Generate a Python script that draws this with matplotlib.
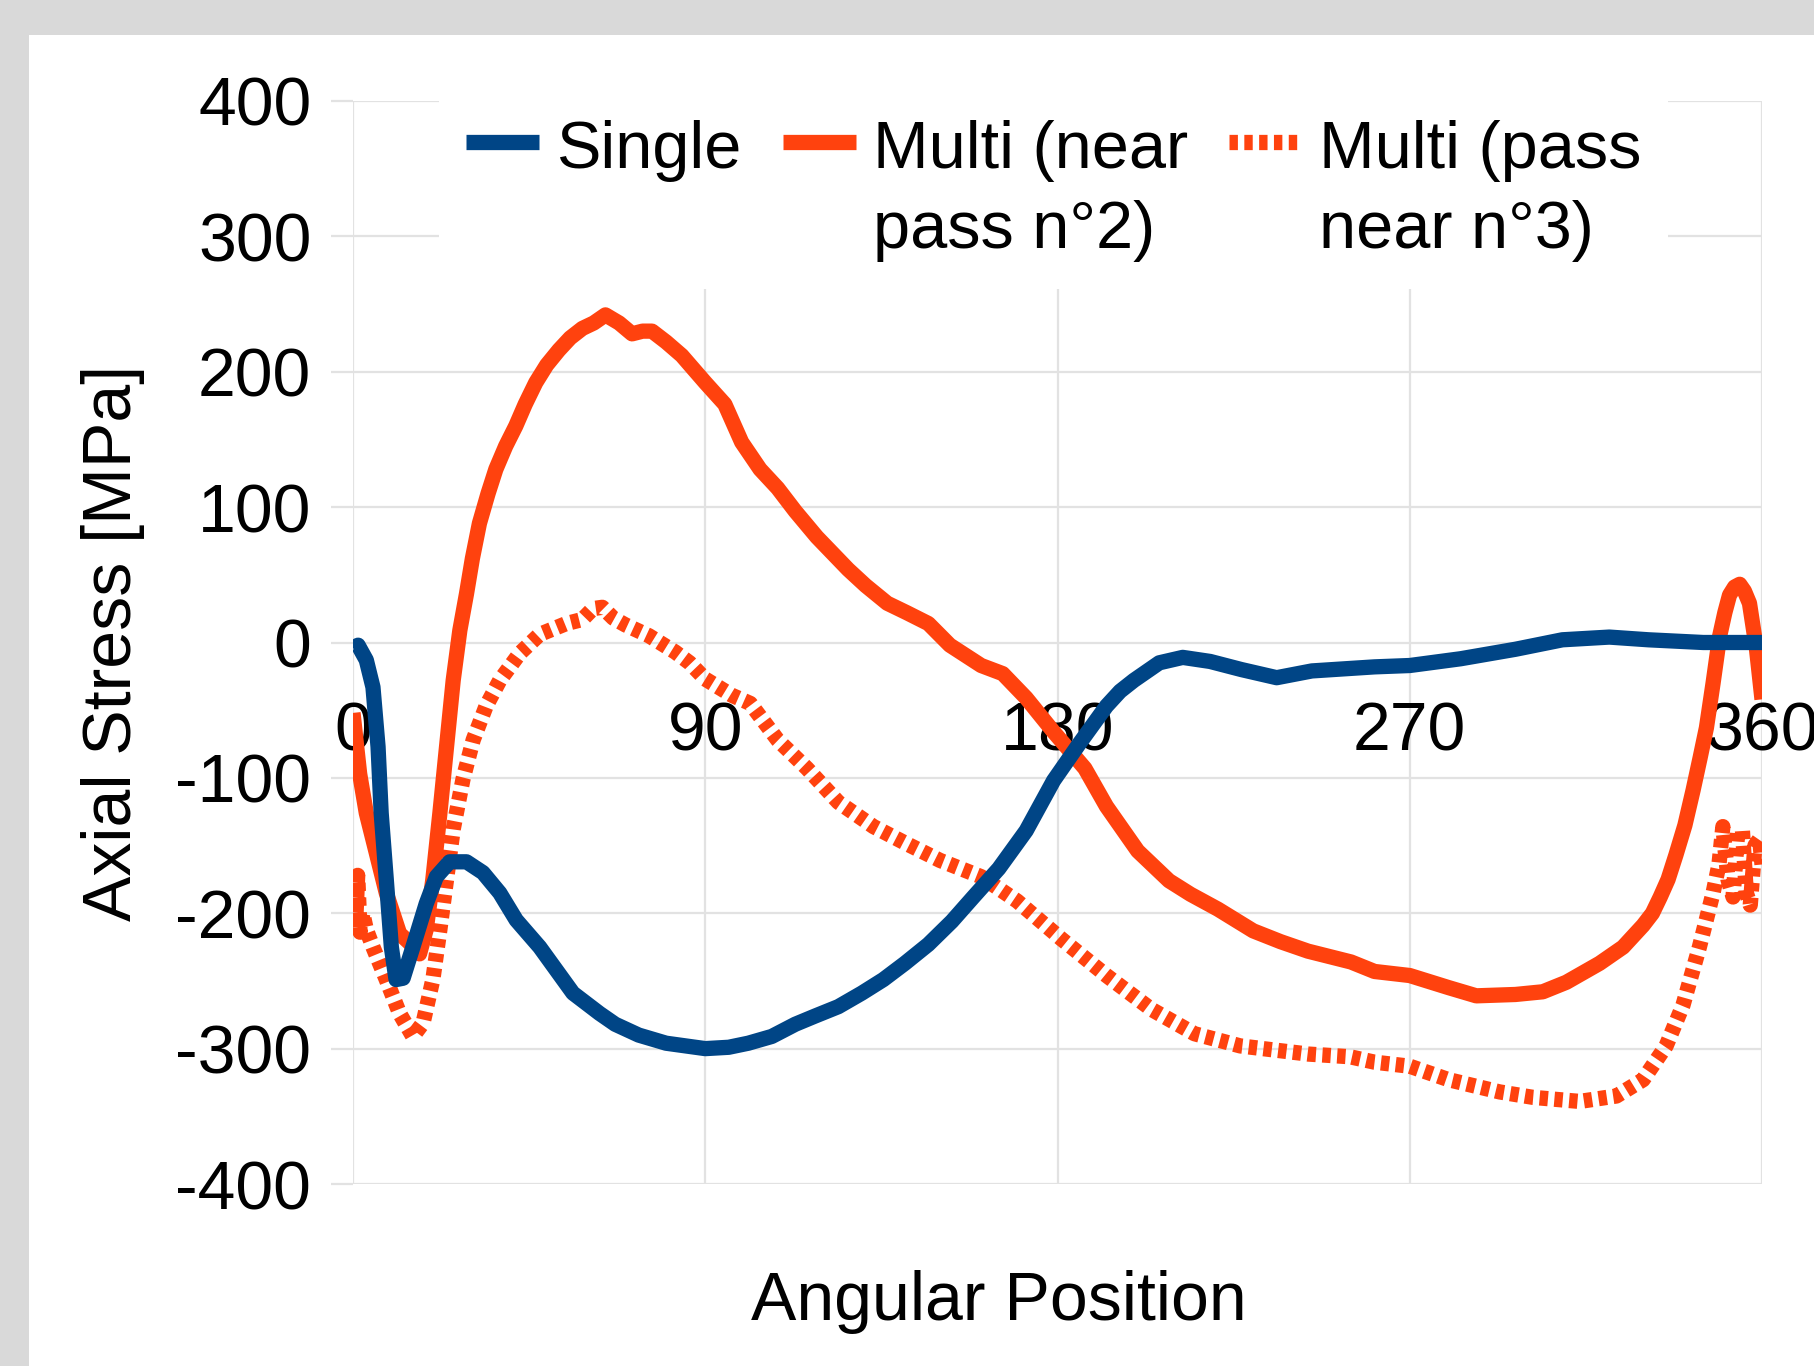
import matplotlib
matplotlib.use('Agg')
import matplotlib.pyplot as plt
from matplotlib.patches import Rectangle

plt.rcParams['font.family'] = ['Liberation Sans', 'DejaVu Sans']
plt.rcParams['axes.unicode_minus'] = False

# angular position (deg) and axial stress (MPa)
ang_single = [0, 1.3, 3.4, 5.1, 6.4, 7.2, 8.5, 9.8, 11, 12.8, 15.3, 18.7, 21.3, 24.7, 29,
              33.2, 37.5, 41.7, 47.7, 56.2, 63, 67, 73, 80, 90, 96, 101, 107, 113, 118,
              124, 130, 135.5, 141, 147, 153, 158.5, 165, 172, 179, 185.5, 192.5, 196,
              199.5, 206, 212, 219, 227, 236, 245, 261, 270, 283, 297, 309, 321, 331,
              345, 360]
single = [-4, -2, -13, -33, -77, -126, -175, -225, -249, -248, -225, -193, -173, -162, -162,
          -170, -185, -205, -225, -259, -274, -282, -290, -296, -300, -299, -296, -291,
          -282, -276, -269, -259, -249, -237, -223, -206, -188, -167, -139, -102, -75,
          -47, -36, -28, -15, -11, -14, -20, -26, -21, -18, -17, -12, -5, 2, 4, 2,
          0, 0]

ang_near = [0, 1.7, 3.4, 6, 8.5, 11.9, 14.5, 17, 18.7, 20.4, 22.2, 23.9, 25.6, 27.3, 29,
            30.5, 32.3, 34.5, 36.5, 39, 41.6, 44, 46.7, 49.5, 52.6, 55.5, 58.6, 61.5,
            64.5, 68, 71.3, 74, 76.4, 80, 84, 87, 90, 95, 99.3, 104, 108.5, 113, 118.5,
            122.5, 126.5, 131, 136.5, 141.5, 147, 152.5, 160.5, 166, 172, 179, 187,
            192.5, 200.5, 208.5, 214, 221, 230, 237, 244, 255, 261, 270, 280, 287, 297,
            304, 310, 318.5, 324.5, 329.6, 332, 334, 336, 338, 340.3, 342.4, 344.2,
            345.8, 347.5, 349.2, 350.5, 351.7, 353, 354.3, 355.5, 356.8, 358.6, 360]
multi_near = [-52, -97, -126, -156, -185, -215, -222, -230, -212, -175, -126, -77, -28, 9,
              36, 62, 88, 110, 128, 145, 160, 176, 192, 205, 216, 225, 232, 236,
              242, 236, 228, 230, 230, 222, 212, 202, 192, 176, 148, 128, 114, 97, 78,
              66, 54, 42, 29, 22, 14, -2, -17, -23, -41, -66, -93,
              -121, -154, -176, -186, -197, -213, -221, -228, -236, -243, -246, -255, -261,
              -260, -258, -251, -237, -225, -209, -200, -188, -175, -157, -135, -109, -85,
              -63, -30, 5, 22, 35, 41, 43, 38, 29, -5, -42]

ang_pass = [0, 0.6, 1.2, 1.8, 2.5, 3.4, 5.1, 8.5, 11.9, 15.3, 17.9, 20.4, 22.2, 23.9, 25.6,
            28.1, 30.7, 34, 37.5, 42.6, 47.7, 54.5, 58.6, 61.3, 63.7, 66.5, 69.6, 75.6,
            82.3, 86, 90, 96.8, 101.5, 108.5, 116, 124, 133, 141, 150, 160.5, 169.7,
            181, 192.5, 204, 215, 226.7, 244, 254.7, 261, 270, 280, 293, 301.5, 313.4,
            322.8, 329.6, 335.5, 339.8, 344, 347.5, 349, 350, 351.3, 352.6, 353.8, 355,
            356, 357, 358.2, 359.4, 360]
multi_pass = [-170, -212, -172, -214, -200, -212, -225, -249, -274, -291, -281, -249, -212,
              -175, -138, -101, -72, -47, -28, -8, 6, 14, 17, 25, 26, 18, 13, 5, -7, -15,
              -27, -39, -45, -72, -93, -118, -136, -148, -161, -173, -191, -219, -246,
              -271, -289, -298, -304, -306, -310, -313, -323, -332, -336, -339, -335, -323,
              -298, -268, -225, -185, -164, -136, -175, -188, -140, -139, -185, -194, -150,
              -145, -164]

blue = '#004586'
orange = '#ff420e'
grid_c = '#e2e2e2'
fs = 49

fig = plt.figure(figsize=(18.15, 13.66), dpi=100, facecolor='#d9d9d9')
fig.patches.append(Rectangle((29 / 1815, 0), 1, 1 - 35 / 1366, transform=fig.transFigure,
                             facecolor='white', edgecolor='none', zorder=-1))
ax = fig.add_axes([353 / 1815, 1 - 1184 / 1366, 1409 / 1815, 1083 / 1366])
ax.set_facecolor('none')

ax.plot(ang_pass, multi_pass, color=orange, lw=11, linestyle=(0, (0.55, 0.42)),
        dash_capstyle='butt', label='Multi (pass\nnear n°3)', zorder=3)
ax.plot(ang_near, multi_near, color=orange, lw=11, solid_capstyle='butt',
        solid_joinstyle='round', label='Multi (near\npass n°2)', zorder=4)
ax.plot(ang_single, single, color=blue, lw=11, solid_capstyle='butt',
        solid_joinstyle='round', label='Single\n', zorder=5)

ax.set_xlim(0, 360)
ax.set_ylim(-400, 400)
ax.set_xticks([0, 90, 180, 270, 360])
ax.set_yticks(range(-400, 401, 100))
ax.grid(True, color=grid_c, lw=1.6)
ax.set_axisbelow(True)
for s in ax.spines.values():
    s.set_visible(False)
ax.spines['bottom'].set_position(('data', 0))
ax.tick_params(axis='x', length=0, pad=42, labelsize=fs)
ax.tick_params(axis='y', length=16, width=1.6, color=grid_c, direction='out', pad=14,
               labelsize=fs)

ax.set_xlabel('Angular Position', fontsize=fs)
ax.xaxis.set_label_coords(0.458, -0.079)
ax.set_ylabel('Axial Stress [MPa]', fontsize=fs)
ax.yaxis.set_label_coords(-0.1476, 0.5)

h, l = ax.get_legend_handles_labels()
order = [2, 1, 0]
leg = ax.legend([h[i] for i in order], [l[i] for i in order], loc='upper left',
                bbox_to_anchor=(0.0376, 1.038), ncol=3, fontsize=48, frameon=True,
                facecolor='white', edgecolor='none', framealpha=1, fancybox=False,
                handlelength=1.1, handletextpad=0.25, columnspacing=0.62, borderpad=0.4)
for t in leg.get_texts():
    t.set_linespacing(1.38)
# lift the legend keys up to the first text line
for ln in leg.get_lines():
    ln.set_ydata([y + 36 for y in ln.get_ydata()])

fig.savefig('out.png', dpi=100, facecolor=fig.get_facecolor())
